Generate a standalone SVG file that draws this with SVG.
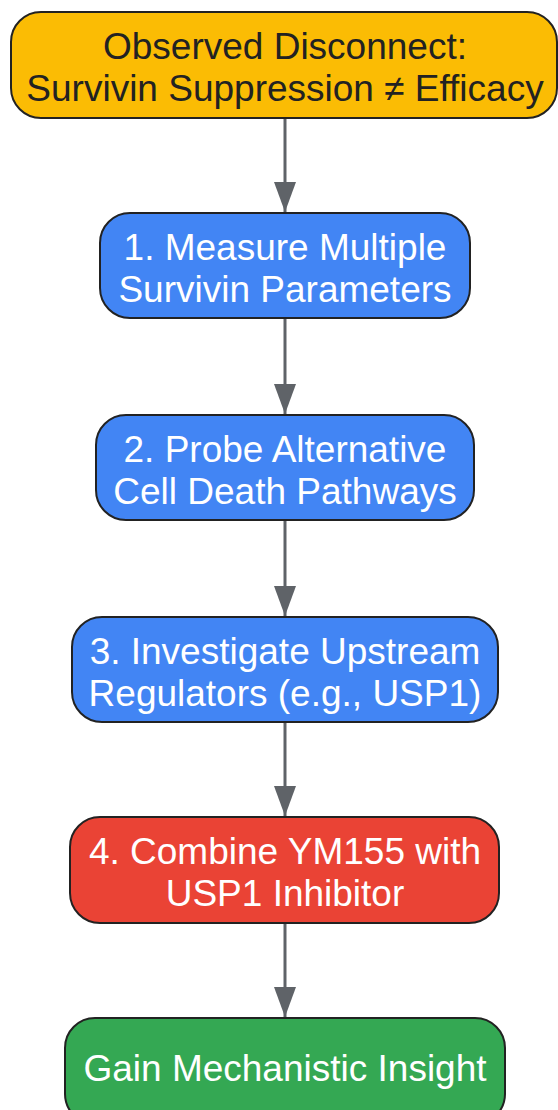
<svg xmlns="http://www.w3.org/2000/svg" width="558" height="1110" viewBox="0 0 558 1110">
<style>
.n{stroke:#222;stroke-width:2}
.t{font-family:"Liberation Sans",Arial,sans-serif;font-size:37px;text-anchor:middle;fill:#fff}
.dk{fill:#222}
.e{stroke:#5f6368;stroke-width:3;fill:none}
</style>
<defs>
<marker id="ar" viewBox="0 0 30 22" refX="30" refY="11" markerWidth="30" markerHeight="22" markerUnits="userSpaceOnUse" orient="auto">
<path d="M0,0 L30,11 L0,22 Z" fill="#5f6368"/>
</marker>
</defs>
<rect width="558" height="1110" fill="#fff"/>
<g id="edges">
<line class="e" x1="285" y1="118" x2="285" y2="212" marker-end="url(#ar)"/>
<line class="e" x1="285" y1="318" x2="285" y2="414" marker-end="url(#ar)"/>
<line class="e" x1="285" y1="520" x2="285" y2="616" marker-end="url(#ar)"/>
<line class="e" x1="285" y1="722" x2="285" y2="816" marker-end="url(#ar)"/>
<line class="e" x1="285" y1="923" x2="285" y2="1017" marker-end="url(#ar)"/>
</g>
<g id="n0">
<rect class="n" x="11" y="12" width="546" height="106" rx="30" fill="#fbbc04"/>
<text class="t dk" x="285" y="59">Observed Disconnect:</text>
<text class="t dk" x="285" y="101">Survivin Suppression ≠ Efficacy</text>
</g>
<g id="n1">
<rect class="n" x="100" y="213" width="370" height="105" rx="30" fill="#4285f4"/>
<text class="t" x="285" y="260">1. Measure Multiple</text>
<text class="t" x="285" y="302">Survivin Parameters</text>
</g>
<g id="n2">
<rect class="n" x="96" y="415" width="378" height="105" rx="30" fill="#4285f4"/>
<text class="t" x="285" y="462">2. Probe Alternative</text>
<text class="t" x="285" y="504">Cell Death Pathways</text>
</g>
<g id="n3">
<rect class="n" x="72" y="617" width="426" height="105" rx="30" fill="#4285f4"/>
<text class="t" x="285" y="664">3. Investigate Upstream</text>
<text class="t" x="285" y="706">Regulators (e.g., USP1)</text>
</g>
<g id="n4">
<rect class="n" x="70" y="817" width="429" height="106" rx="30" fill="#ea4335"/>
<text class="t" x="285" y="864">4. Combine YM155 with</text>
<text class="t" x="285" y="906">USP1 Inhibitor</text>
</g>
<g id="n5">
<rect class="n" x="65" y="1018" width="440" height="106" rx="30" fill="#34a853"/>
<text class="t" x="285" y="1081">Gain Mechanistic Insight</text>
</g>
</svg>
